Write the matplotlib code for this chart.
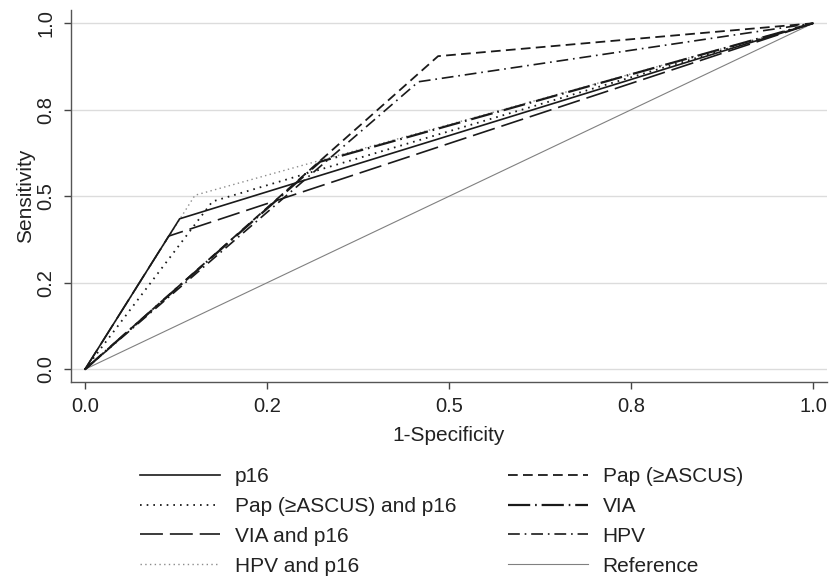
import matplotlib
matplotlib.use('Agg')
import matplotlib.pyplot as plt

plt.rcParams['font.family'] = ['Liberation Sans', 'DejaVu Sans']
plt.rcParams['lines.scale_dashes'] = False

# ROC points (1-specificity, sensitivity)
p16_x = [0.0, 0.13, 1.0]
p16_y = [0.0, 0.435, 1.0]
pap_x = [0.0, 0.485, 1.0]
pap_y = [0.0, 0.905, 1.0]
pap_p16_x = [0.0, 0.175, 1.0]
pap_p16_y = [0.0, 0.485, 1.0]
via_x = [0.0, 0.323, 1.0]
via_y = [0.0, 0.60, 1.0]
via_p16_x = [0.0, 0.115, 1.0]
via_p16_y = [0.0, 0.385, 1.0]
hpv_x = [0.0, 0.458, 1.0]
hpv_y = [0.0, 0.831, 1.0]
hpv_p16_x = [0.0, 0.151, 1.0]
hpv_p16_y = [0.0, 0.503, 1.0]
ref_x = [0.0, 1.0]
ref_y = [0.0, 1.0]

tick_pos = [0.0, 0.25, 0.5, 0.75, 1.0]
tick_labels = ['0.0', '0.2', '0.5', '0.8', '1.0']

fig = plt.figure(figsize=(8.3, 5.77), dpi=100)
ax = fig.add_axes([71 / 830, 1 - 381.7 / 577, (827 - 71) / 830, (381.7 - 10) / 577])

black = '#1a1a1a'
l_ref, = ax.plot(ref_x, ref_y, color='#808080', lw=0.8, label='Reference')
l_hpv_p16, = ax.plot(hpv_p16_x, hpv_p16_y, color='#8c8c8c', lw=1.0,
                     dashes=(1.0, 2.4), label='HPV and p16')
l_via_p16, = ax.plot(via_p16_x, via_p16_y, color=black, lw=1.2,
                     dashes=(16.5, 5), label='VIA and p16')
l_pap_p16, = ax.plot(pap_p16_x, pap_p16_y, color=black, lw=1.3,
                     dashes=(1.2, 3.6), label='Pap (≥ASCUS) and p16')
l_p16, = ax.plot(p16_x, p16_y, color=black, lw=1.2, label='p16')
l_hpv, = ax.plot(hpv_x, hpv_y, color=black, lw=1.2,
                 dashes=(8.5, 3.5, 1.2, 3.5), label='HPV')
l_pap, = ax.plot(pap_x, pap_y, color=black, lw=1.3,
                 dashes=(7, 3.8), label='Pap (≥ASCUS)')
l_via, = ax.plot(via_x, via_y, color=black, lw=1.6,
                 dashes=(16, 3.5, 1.2, 3.5), label='VIA')

ax.set_xlim(-14 / 728, 1 + 14 / 728)
ax.set_ylim(-12.4 / 346, 1 + 13.3 / 346)

ax.set_xticks(tick_pos)
ax.set_xticklabels(tick_labels)
ax.set_yticks(tick_pos)
ax.set_yticklabels(tick_labels, rotation=90, va='center')
ax.tick_params(axis='both', direction='out', length=5, width=1, colors='#444444',
               labelcolor='#222222', labelsize=14.5, pad=6)

ax.yaxis.grid(True, color='#dcdcdc', lw=1)
ax.set_axisbelow(True)
for side in ['top', 'right']:
    ax.spines[side].set_visible(False)
for side in ['left', 'bottom']:
    ax.spines[side].set_color('#555555')
    ax.spines[side].set_linewidth(1)

ax.set_xlabel('1-Specificity', fontsize=15, color='#222222', labelpad=7)
ax.set_ylabel('Sensitivity', fontsize=15, color='#222222', labelpad=1)

handles = [l_p16, l_pap_p16, l_via_p16, l_hpv_p16, l_pap, l_via, l_hpv, l_ref]
fig.legend(handles=handles, labels=[h.get_label() for h in handles], ncol=2,
           loc='upper left', bbox_to_anchor=(140 / 830, 1 - 467 / 577),
           frameon=False, fontsize=15, borderpad=0, borderaxespad=0,
           handlelength=3.84, handletextpad=0.72, columnspacing=2.45,
           labelspacing=0.52, labelcolor='#222222')

fig.savefig('out.png', dpi=100)
